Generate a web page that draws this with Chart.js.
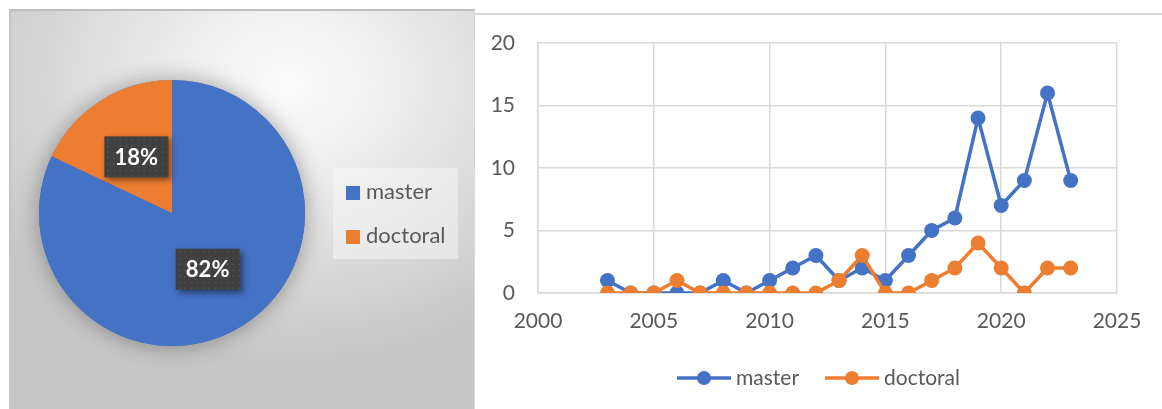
<!DOCTYPE html>
<html>
<head>
<meta charset="utf-8">
<script src="https://cdn.jsdelivr.net/npm/chart.js@4.4.1/dist/chart.umd.min.js"></script>
<style>
  html,body{margin:0;padding:0;background:#fff;width:1162px;height:409px;overflow:hidden;font-family:Lato,"Noto Sans",sans-serif;}
  #pieBox{position:absolute;left:9px;top:9px;width:463px;height:400px;
    border-top:2px solid #bdbdbd;border-left:2px solid #c4c4c4;border-right:1px solid #e0e0e0;
    background:radial-gradient(ellipse 75% 70% at 60% 18%,#fbfbfb 0%,#ececec 35%,#d8d8d8 68%,#c6c6c6 100%);}
  #pieCanvasWrap{position:absolute;left:0;top:0;width:474px;height:409px;}
  #pieLegend{position:absolute;left:333px;top:168px;width:125px;height:91px;background:rgba(245,245,245,0.55);}
  #pieLegend div{position:absolute;left:13px;font-size:22px;color:#595959;line-height:24px;}
  #pieLegend span{display:inline-block;width:14px;height:14px;margin-right:6px;vertical-align:-1px;}
  #lineBox{position:absolute;left:474px;top:13px;width:688px;height:396px;border-top:2px solid #d9d9d9;border-left:1px solid #d9d9d9;}
  #lineCanvasWrap{position:absolute;left:475px;top:14px;width:687px;height:395px;}
</style>
</head>
<body>
<div id="pieBox"></div>
<div id="pieCanvasWrap"><canvas id="pie"></canvas></div>
<div id="pieLegend"></div>
<div id="lineBox"></div>
<div id="lineCanvasWrap"><canvas id="line"></canvas></div>
<script>
const seriesNames=["master","doctoral"];
const colors=["#4472C4","#ED7D31"];
const years=[2003,2004,2005,2006,2007,2008,2009,2010,2011,2012,2013,2014,2015,2016,2017,2018,2019,2020,2021,2022,2023];
const master=[1,0,0,0,0,1,0,1,2,3,1,2,1,3,5,6,14,7,9,16,9];
const doctoral=[0,0,0,1,0,0,0,0,0,0,1,3,0,0,1,2,4,2,0,2,2];
const pieValues=[82,18];
const xTicks=[2000,2005,2010,2015,2020,2025];
const yTicks=[0,5,10,15,20];

const FONT='Lato, "Noto Sans", sans-serif';
const TEXT='#595959';

// html legend for the pie
var lg=document.getElementById('pieLegend');
seriesNames.forEach(function(n,i){
  var d=document.createElement('div');
  d.style.top=(11+i*44)+'px';
  d.innerHTML='<span style="background:'+colors[i]+'"></span>'+n;
  lg.appendChild(d);
});

// shadow circle under the pie + dark label boxes
const pieDeco={
  id:'pieDeco',
  beforeDatasetsDraw(chart){
    const a=chart.getDatasetMeta(0).data[0];
    const ctx=chart.ctx;
    ctx.save();
    ctx.shadowColor='rgba(0,0,0,0.35)';
    ctx.shadowBlur=22;
    ctx.beginPath();
    ctx.arc(a.x,a.y,a.outerRadius,0,Math.PI*2);
    ctx.fillStyle=colors[0];
    ctx.fill();
    ctx.restore();
  },
  afterDatasetsDraw(chart){
    const ctx=chart.ctx;
    const vals=chart.data.datasets[0].data;
    const total=vals.reduce((s,v)=>s+v,0);
    chart.getDatasetMeta(0).data.forEach(function(arc,i){
      const p=arc.tooltipPosition();
      const w=64,h=41,x=p.x-w/2,y=p.y-h/2;
      ctx.save();
      ctx.shadowColor='rgba(0,0,0,0.45)';
      ctx.shadowBlur=6;ctx.shadowOffsetX=3;ctx.shadowOffsetY=3;
      ctx.fillStyle='#404040';
      ctx.fillRect(x,y,w,h);
      ctx.restore();
      ctx.save();
      ctx.fillStyle='#555555';
      for(let yy=y+3;yy<y+h;yy+=6){for(let xx=x+3;xx<x+w;xx+=6){ctx.fillRect(xx,yy,1.5,1.5);}}
      ctx.fillStyle='#ffffff';
      ctx.font='bold 22px '+FONT;
      ctx.textAlign='center';ctx.textBaseline='middle';
      ctx.fillText(Math.round(vals[i]/total*100)+'%',p.x,p.y+1);
      ctx.restore();
    });
  }
};

new Chart(document.getElementById('pie').getContext('2d'),{
  type:'pie',
  data:{labels:seriesNames,datasets:[{data:pieValues,backgroundColor:colors,borderWidth:0}]},
  options:{
    responsive:true,maintainAspectRatio:false,animation:false,
    layout:{padding:{left:39,top:80,right:169,bottom:63}},
    plugins:{legend:{display:false},tooltip:{enabled:false}}
  },
  plugins:[pieDeco]
});

// legend for the line chart: line + marker + name
const lineLegend={
  id:'lineLegend',
  afterDraw(chart){
    const ctx=chart.ctx;
    ctx.save();
    ctx.font='21px '+FONT;
    const items=chart.data.datasets.map(d=>({d:d,tw:ctx.measureText(d.label).width}));
    const total=items.reduce((s,it)=>s+54+5+it.tw,0)+26*(items.length-1);
    let x=chart.width/2-total/2;
    const y=364;
    items.forEach(function(it){
      ctx.strokeStyle=it.d.borderColor;ctx.lineWidth=3.5;
      ctx.beginPath();ctx.moveTo(x,y);ctx.lineTo(x+54,y);ctx.stroke();
      ctx.fillStyle=it.d.borderColor;
      ctx.beginPath();ctx.arc(x+27,y,7,0,Math.PI*2);ctx.fill();
      ctx.fillStyle=TEXT;ctx.textAlign='left';ctx.textBaseline='middle';
      ctx.fillText(it.d.label,x+59,y);
      x+=54+5+it.tw+26;
    });
    ctx.restore();
  }
};

const series=[master,doctoral];
new Chart(document.getElementById('line').getContext('2d'),{
  type:'scatter',
  data:{datasets:series.map(function(s,i){
    return {label:seriesNames[i],data:years.map((yr,j)=>({x:yr,y:s[j]})),
      showLine:true,borderColor:colors[i],backgroundColor:colors[i],borderWidth:3.5,
      pointRadius:7.5,pointBorderWidth:0,pointHoverRadius:7.5,order:1-i};
  })},
  options:{
    responsive:true,maintainAspectRatio:false,animation:false,
    layout:{padding:{left:0,top:29,right:45,bottom:0}},
    plugins:{legend:{display:false},tooltip:{enabled:false}},
    scales:{
      x:{type:'linear',min:xTicks[0],max:xTicks[xTicks.length-1],
        afterBuildTicks(s){s.ticks=xTicks.map(v=>({value:v}));},
        afterFit(s){s.height=116;s.paddingLeft=0;s.paddingRight=0;},
        grid:{color:'#d9d9d9',lineWidth:1.5,drawTicks:false},
        border:{color:'#d9d9d9',width:1.5},
        ticks:{color:TEXT,font:{family:FONT,size:21},padding:16,callback:v=>String(v),maxRotation:0}},
      y:{min:yTicks[0],max:yTicks[yTicks.length-1],
        afterBuildTicks(s){s.ticks=yTicks.map(v=>({value:v}));},
        afterFit(s){s.width=63;s.paddingTop=0;s.paddingBottom=0;},
        grid:{color:'#d9d9d9',lineWidth:1.5,drawTicks:false},
        border:{color:'#d9d9d9',width:1.5},
        ticks:{color:TEXT,font:{family:FONT,size:21},padding:23}}
    }
  },
  plugins:[lineLegend]
});
</script>
</body>
</html>
